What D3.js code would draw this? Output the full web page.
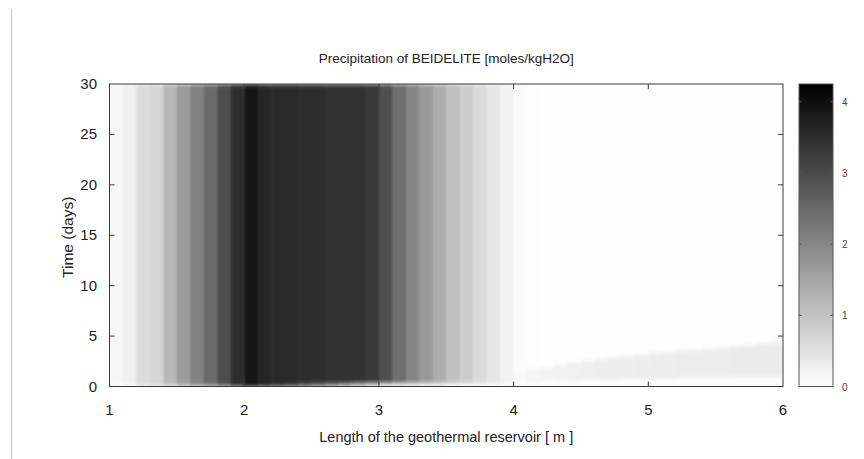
<!DOCTYPE html>
<html>
<head>
<meta charset="utf-8">
<script src="https://cdn.jsdelivr.net/npm/d3@7"></script>
<style>
  body { margin: 0; background: #fff; }
  svg { display: block; font-family: Arial, "Liberation Sans", sans-serif; }
</style>
</head>
<body>
<div id="chart-area"></div>
<script>
// grid columns: left edge of each 0.1 m cell along the reservoir
var lengths = [1.0,1.1,1.2,1.3,1.4,1.5,1.6,1.7,1.8,1.9,
               2.0,2.1,2.2,2.3,2.4,2.5,2.6,2.7,2.8,2.9,
               3.0,3.1,3.2,3.3,3.4,3.5,3.6,3.7,3.8,3.9,
               4.0,4.1,4.2,4.3,4.4,4.5,4.6,4.7,4.8,4.9,
               5.0,5.1,5.2,5.3,5.4,5.5,5.6,5.7,5.8,5.9];
var cellWidth = 0.1;

// precipitated amount after the first days (moles/kgH2O)
var profile = [0.15,0.25,0.6,0.7,1.2,1.65,2.1,2.5,2.95,3.5,
               3.85,3.6,3.55,3.52,3.5,3.48,3.45,3.42,3.4,3.3,
               2.92,2.42,2.03,1.7,1.37,1.05,0.83,0.62,0.42,0.22,
               0.07,0.03,0.02,0.01,0.01,0.01,0.01,0.01,0.01,0.01,
               0.01,0.01,0.01,0.01,0.01,0.01,0.01,0.01,0.01,0.01];

// first time rows (t = 0 .. 0.15 and 0.15 .. 0.35 days)
var earlyTimes = [0, 0.15, 0.35];
var earlyRow1 = [0.05,0.1,0.3,0.4,0.7,1.0,1.3,1.6,2.0,3.2,
                 3.8,3.4,3.0,2.6,2.2,1.8,1.4,1.0,0.6,0.3,
                 0.05,0.05,0.05,0.05,0.05,0.05,0.05,0.05,0.04,0.03,
                 0.02,0.02,0.02,0.02,0.02,0.02,0.02,0.02,0.02,0.02,
                 0.02,0.02,0.02,0.02,0.02,0.02,0.02,0.02,0.02,0.02];
var earlyRow2 = [0.1,0.2,0.5,0.6,1.0,1.4,1.8,2.2,2.7,3.4,
                 3.85,3.6,3.5,3.3,3.0,2.7,2.3,1.9,1.4,0.9,
                 0.6,0.4,0.3,0.25,0.2,0.15,0.12,0.1,0.08,0.05,
                 0.04,0.04,0.04,0.04,0.04,0.04,0.04,0.04,0.04,0.04,
                 0.05,0.05,0.05,0.05,0.05,0.05,0.05,0.05,0.05,0.05];

// faint band beyond 4 m (columns 4.0 .. 5.9): start / end time and level
var bandBottom = [0.5,0.5,0.6,0.6,0.6,0.7,0.7,0.7,0.8,0.8,
                  0.8,0.8,0.9,0.9,0.9,0.9,1.0,1.0,1.0,1.0];
var bandTop    = [1.6,1.8,2.0,2.2,2.4,2.6,2.8,3.0,3.1,3.2,
                  3.4,3.5,3.6,3.7,3.8,3.9,4.0,4.1,4.3,4.4];
var bandLevel  = [0.12,0.16,0.2,0.22,0.25,0.27,0.28,0.28,0.29,0.3,
                  0.3,0.3,0.31,0.31,0.32,0.32,0.33,0.34,0.34,0.34];

var xTicks = [1, 2, 3, 4, 5, 6];
var yTicks = [0, 5, 10, 15, 20, 25, 30];
var cbTicks = [0, 1, 2, 3, 4];
var cbMax = 4.25;

var svgW = 864, svgH = 459;
var margin = { left: 109.5, top: 84, right: 81, bottom: 72.5 };
var width = svgW - margin.left - margin.right;   // 673.5
var height = svgH - margin.top - margin.bottom;  // 302.5

var svg = d3.select("#chart-area")
  .append("svg")
    .attr("width", svgW)
    .attr("height", svgH);

// faint page frame on the left
svg.append("line")
  .attr("x1", 11.5).attr("x2", 11.5)
  .attr("y1", 9).attr("y2", svgH)
  .attr("stroke", "#c4c4c4");

var x = d3.scaleLinear().domain([1, 6]).range([margin.left, margin.left + width]);
var y = d3.scaleLinear().domain([0, 30]).range([margin.top + height, margin.top]);
var color = d3.scaleLinear().domain([0, cbMax]).range(["#ffffff", "#000000"]);

// build cells from the arrays
var cells = [];
lengths.forEach(function(x0, i){
  cells.push({ x0: x0, t0: earlyTimes[0], t1: earlyTimes[1], v: earlyRow1[i] });
  if (x0 < 4) {
    cells.push({ x0: x0, t0: earlyTimes[1], t1: earlyTimes[2], v: earlyRow2[i] });
    cells.push({ x0: x0, t0: earlyTimes[2], t1: 30, v: profile[i] });
  } else {
    var j = i - 30;
    cells.push({ x0: x0, t0: earlyTimes[1], t1: bandBottom[j], v: earlyRow2[i] });
    cells.push({ x0: x0, t0: bandBottom[j], t1: bandTop[j], v: bandLevel[j] });
    cells.push({ x0: x0, t0: bandTop[j], t1: 30, v: profile[i] });
  }
});

var defs = svg.append("defs");
defs.append("clipPath").attr("id", "plot-clip")
  .append("rect")
    .attr("x", x(1)).attr("y", y(30))
    .attr("width", x(6) - x(1)).attr("height", y(0) - y(30));
var blur = defs.append("filter").attr("id", "soft")
  .attr("x", 0).attr("y", 0).attr("width", 1).attr("height", 1);
blur.append("feGaussianBlur")
  .attr("stdDeviation", "0.8 2.2")
  .attr("edgeMode", "duplicate");

var heat = svg.append("g").attr("clip-path", "url(#plot-clip)")
  .append("g").attr("filter", "url(#soft)");

heat.selectAll("rect")
  .data(cells)
  .enter().append("rect")
    .attr("x", function(d){ return x(d.x0); })
    .attr("y", function(d){ return y(d.t1); })
    .attr("width", function(d){ return x(d.x0 + cellWidth) - x(d.x0) + 0.5; })
    .attr("height", function(d){ return y(d.t0) - y(d.t1) + 0.5; })
    .attr("fill", function(d){ return color(d.v); });

// frame and ticks (gnuplot style, inward + mirrored)
var axisColor = "#3a3a3a";
svg.append("rect")
  .attr("x", x(1)).attr("y", y(30))
  .attr("width", x(6) - x(1)).attr("height", y(0) - y(30))
  .attr("fill", "none").attr("stroke", axisColor).attr("stroke-width", 1);

var tickLen = 5;
var xTickG = svg.append("g");
xTickG.selectAll(".xb").data(xTicks.slice(1, -1)).enter().append("line")
  .attr("x1", function(d){ return x(d); }).attr("x2", function(d){ return x(d); })
  .attr("y1", y(0)).attr("y2", y(0) - tickLen)
  .attr("stroke", axisColor);
xTickG.selectAll(".xt").data(xTicks.slice(1, -1)).enter().append("line")
  .attr("x1", function(d){ return x(d); }).attr("x2", function(d){ return x(d); })
  .attr("y1", y(30)).attr("y2", y(30) + tickLen)
  .attr("stroke", axisColor);
var yTickG = svg.append("g");
yTickG.selectAll(".yl").data(yTicks.slice(1, -1)).enter().append("line")
  .attr("x1", x(1)).attr("x2", x(1) + tickLen)
  .attr("y1", function(d){ return y(d); }).attr("y2", function(d){ return y(d); })
  .attr("stroke", axisColor);
yTickG.selectAll(".yr").data(yTicks.slice(1, -1)).enter().append("line")
  .attr("x1", x(6)).attr("x2", x(6) - tickLen)
  .attr("y1", function(d){ return y(d); }).attr("y2", function(d){ return y(d); })
  .attr("stroke", axisColor);

// tick labels
svg.append("g").selectAll("text").data(xTicks).enter().append("text")
  .attr("x", function(d){ return x(d); })
  .attr("y", 415)
  .attr("text-anchor", "middle")
  .attr("font-size", "15px")
  .attr("fill", "#222")
  .text(function(d){ return d; });
svg.append("g").selectAll("text").data(yTicks).enter().append("text")
  .attr("x", 97)
  .attr("y", function(d){ return y(d) + 5; })
  .attr("text-anchor", "end")
  .attr("font-size", "15px")
  .attr("fill", "#222")
  .text(function(d){ return d; });

// title and axis labels
svg.append("text")
  .attr("x", (x(1) + x(6)) / 2)
  .attr("y", 63)
  .attr("text-anchor", "middle")
  .attr("font-size", "13.5px")
  .attr("fill", "#222")
  .text("Precipitation of BEIDELITE [moles/kgH2O]");
svg.append("text")
  .attr("x", (x(1) + x(6)) / 2)
  .attr("y", 442)
  .attr("text-anchor", "middle")
  .attr("font-size", "14.5px")
  .attr("fill", "#222")
  .text("Length of the geothermal reservoir [ m ]");
svg.append("text")
  .attr("transform", "translate(73," + ((y(0) + y(30)) / 2 + 2) + ") rotate(-90)")
  .attr("text-anchor", "middle")
  .attr("font-size", "15.5px")
  .attr("fill", "#222")
  .text("Time (days)");

// colour box
var cbX = 799, cbW = 34;
var cb = d3.scaleLinear().domain([0, cbMax]).range([y(0), y(30)]);
var grad = defs.append("linearGradient").attr("id", "cb-grad")
  .attr("x1", 0).attr("y1", 1).attr("x2", 0).attr("y2", 0);
grad.selectAll("stop").data([0, cbMax]).enter().append("stop")
  .attr("offset", function(d){ return d / cbMax; })
  .attr("stop-color", function(d){ return color(d); });
svg.append("rect")
  .attr("x", cbX).attr("y", cb(cbMax))
  .attr("width", cbW).attr("height", cb(0) - cb(cbMax))
  .attr("fill", "url(#cb-grad)")
  .attr("stroke", "#555").attr("stroke-width", 1);
var cbTickG = svg.append("g");
cbTickG.selectAll(".cl").data(cbTicks.slice(1)).enter().append("line")
  .attr("x1", cbX).attr("x2", cbX + 3)
  .attr("y1", function(d){ return cb(d); }).attr("y2", function(d){ return cb(d); })
  .attr("stroke", "#555");
cbTickG.selectAll(".cr").data(cbTicks.slice(1)).enter().append("line")
  .attr("x1", cbX + cbW).attr("x2", cbX + cbW - 3)
  .attr("y1", function(d){ return cb(d); }).attr("y2", function(d){ return cb(d); })
  .attr("stroke", "#555");
svg.append("g").selectAll("text").data(cbTicks).enter().append("text")
  .attr("x", 842)
  .attr("y", function(d){ return cb(d) + 4; })
  .attr("font-size", "10px")
  .attr("fill", "#444")
  .text(function(d){ return d; });
</script>
</body>
</html>
